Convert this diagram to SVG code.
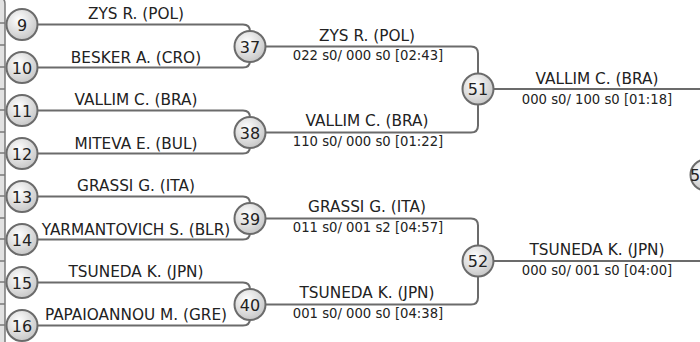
<svg xmlns="http://www.w3.org/2000/svg" width="700" height="342" viewBox="0 0 700 342">
<style>
.c{fill:url(#g);stroke:#6b6b6b;stroke-width:2}
.n{font-family:"DejaVu Sans",sans-serif;font-size:16px;fill:#222;text-anchor:middle}
.t{font-family:"DejaVu Sans",sans-serif;font-size:15.3px;fill:#222;text-anchor:middle}
.s{font-family:"DejaVu Sans",sans-serif;font-size:13.2px;fill:#222;text-anchor:middle}
.l{fill:none;stroke:#6b6b6b;stroke-width:2}
.e{fill:none;stroke:#7a7a7a;stroke-width:1.5}
</style>
<defs>
<radialGradient id="g" cx="40%" cy="35%" r="70%">
<stop offset="0" stop-color="#ffffff"/>
<stop offset="1" stop-color="#c4c4c4"/>
</radialGradient>
</defs>
<rect width="700" height="342" fill="#ffffff"/>
<g id="left-edge">
<rect x="0" y="0" width="5" height="342" fill="#e2e2e2"/>
<path class="e" d="M0,-2 Q5,-2 5,4 V342"/>
<path class="e" d="M0,23 H5 M0,45 H5 M0,67 H5 M0,89 H5 M0,110 H5 M0,132 H5 M0,153 H5 M0,175 H5 M0,196 H5 M0,218 H5 M0,239 H5 M0,261 H5 M0,282 H5 M0,304 H5 M0,325 H5"/>
</g>
<g id="connectors">
<path class="l" d="M37,24.5 H243 Q250,24.5 250,31.5"/>
<path class="l" d="M37,67.5 H243 Q250,67.5 250,60.5"/>
<path class="l" d="M37,110.5 H243 Q250,110.5 250,117.5"/>
<path class="l" d="M37,153.5 H243 Q250,153.5 250,146.5"/>
<path class="l" d="M37,196.5 H243 Q250,196.5 250,203.5"/>
<path class="l" d="M37,239.5 H243 Q250,239.5 250,232.5"/>
<path class="l" d="M37,282.5 H243 Q250,282.5 250,289.5"/>
<path class="l" d="M37,325.5 H243 Q250,325.5 250,318.5"/>
<path class="l" d="M265,46.5 H471 Q478,46.5 478,53.5 V74"/>
<path class="l" d="M265,132.5 H471 Q478,132.5 478,125.5 V104"/>
<path class="l" d="M265,218.5 H471 Q478,218.5 478,225.5 V246"/>
<path class="l" d="M265,304.5 H471 Q478,304.5 478,297.5 V276"/>
<path class="l" d="M493,89 H699 Q706,89 706,96 V160"/>
<path class="l" d="M493,261 H699 Q706,261 706,254 V190"/>
</g>
<g id="labels">
<text class="t" x="136" y="19">ZYS R. (POL)</text>
<text class="t" x="136" y="63">BESKER A. (CRO)</text>
<text class="t" x="136" y="105">VALLIM C. (BRA)</text>
<text class="t" x="136" y="149">MITEVA E. (BUL)</text>
<text class="t" x="136" y="191">GRASSI G. (ITA)</text>
<text class="t" x="136" y="235">YARMANTOVICH S. (BLR)</text>
<text class="t" x="136" y="277">TSUNEDA K. (JPN)</text>
<text class="t" x="136" y="320">PAPAIOANNOU M. (GRE)</text>
<text class="t" x="367" y="41">ZYS R. (POL)</text>
<text class="s" x="368" y="60">022 s0/ 000 s0 [02:43]</text>
<text class="t" x="367" y="126">VALLIM C. (BRA)</text>
<text class="s" x="368" y="146">110 s0/ 000 s0 [01:22]</text>
<text class="t" x="367" y="212">GRASSI G. (ITA)</text>
<text class="s" x="368" y="232">011 s0/ 001 s2 [04:57]</text>
<text class="t" x="367" y="298">TSUNEDA K. (JPN)</text>
<text class="s" x="368" y="318">001 s0/ 000 s0 [04:38]</text>
<text class="t" x="597" y="84">VALLIM C. (BRA)</text>
<text class="s" x="597" y="104">000 s0/ 100 s0 [01:18]</text>
<text class="t" x="597" y="255">TSUNEDA K. (JPN)</text>
<text class="s" x="597" y="275">000 s0/ 001 s0 [04:00]</text>
</g>
<g id="n9"><circle class="c" cx="22" cy="24.5" r="15.5"/><text class="n" x="22" y="30.5">9</text></g>
<g id="n10"><circle class="c" cx="22" cy="67.5" r="15.5"/><text class="n" x="22" y="73.5">10</text></g>
<g id="n11"><circle class="c" cx="22" cy="110.5" r="15.5"/><text class="n" x="22" y="116.5">11</text></g>
<g id="n12"><circle class="c" cx="22" cy="153.5" r="15.5"/><text class="n" x="22" y="159.5">12</text></g>
<g id="n13"><circle class="c" cx="22" cy="196.5" r="15.5"/><text class="n" x="22" y="202.5">13</text></g>
<g id="n14"><circle class="c" cx="22" cy="239.5" r="15.5"/><text class="n" x="22" y="245.5">14</text></g>
<g id="n15"><circle class="c" cx="22" cy="282.5" r="15.5"/><text class="n" x="22" y="288.5">15</text></g>
<g id="n16"><circle class="c" cx="22" cy="325.5" r="15.5"/><text class="n" x="22" y="331.5">16</text></g>
<g id="n37"><circle class="c" cx="250" cy="46.5" r="15.5"/><text class="n" x="250" y="52.5">37</text></g>
<g id="n38"><circle class="c" cx="250" cy="132.5" r="15.5"/><text class="n" x="250" y="138.5">38</text></g>
<g id="n39"><circle class="c" cx="250" cy="218.5" r="15.5"/><text class="n" x="250" y="224.5">39</text></g>
<g id="n40"><circle class="c" cx="250" cy="304.5" r="15.5"/><text class="n" x="250" y="310.5">40</text></g>
<g id="n51"><circle class="c" cx="478" cy="89" r="15.5"/><text class="n" x="478" y="95">51</text></g>
<g id="n52"><circle class="c" cx="478" cy="261" r="15.5"/><text class="n" x="478" y="267">52</text></g>
<g id="n5x"><circle class="c" cx="706" cy="175" r="15.5"/><text class="n" x="690" y="181" style="text-anchor:start">5</text></g>
</svg>
